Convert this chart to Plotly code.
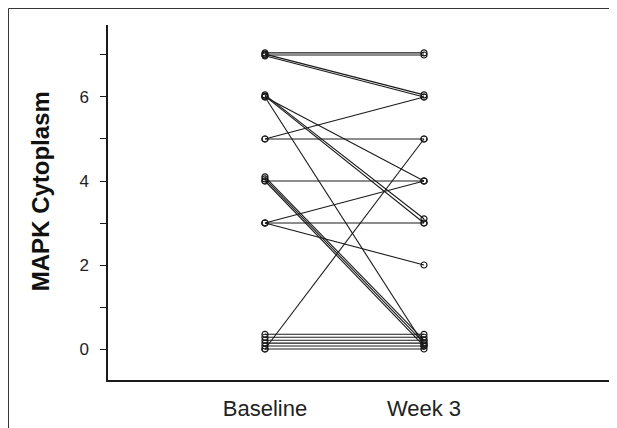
import plotly.graph_objects as go

categories = ["Baseline", "Week 3"]

# Paired values per subject (small offsets separate stacked points, as in the original)
baseline = [7.05, 7.00, 7.02, 6.98, 6.05, 6.02, 6.00, 6.00,
            5.00, 5.00, 4.00, 4.10, 4.05, 4.00,
            3.00, 3.00, 3.00, 0.00,
            0.00, 0.07, 0.14, 0.21, 0.28, 0.35]
week3 = [7.05, 7.00, 6.05, 6.00, 3.10, 3.00, 4.00, 0.10,
         6.00, 5.00, 4.00, 0.21, 0.14, 0.07,
         4.00, 3.00, 2.00, 5.00,
         0.00, 0.07, 0.14, 0.21, 0.28, 0.35]

y_ticks = [0, 2, 4, 6]
y_minor = [1, 3, 5, 7]
y_title = "MAPK Cytoplasm"

fig = go.Figure()
for b, w in zip(baseline, week3):
    fig.add_trace(go.Scatter(
        x=categories, y=[b, w], mode="lines+markers",
        line=dict(color="#1a1a1a", width=1.1),
        marker=dict(symbol="circle-open", size=6, color="#1a1a1a",
                    line=dict(width=1.2, color="#1a1a1a")),
        showlegend=False, hoverinfo="skip"))

fig.update_layout(
    width=609, height=420,
    margin=dict(l=100, r=2, t=17, b=48),
    paper_bgcolor="white", plot_bgcolor="white",
    font=dict(family="Liberation Sans, Arial, sans-serif", color="#222"),
    xaxis=dict(type="category", range=[-0.987, 2.201], showgrid=False,
               zeroline=False, showline=True, linecolor="#1a1a1a", linewidth=1.5,
               ticks="", tickfont=dict(size=22), ticklabelstandoff=8),
    yaxis=dict(range=[-0.738, 7.714], tickvals=y_ticks, showgrid=False,
               zeroline=False, showline=True, linecolor="#1a1a1a", linewidth=1.5,
               ticks="outside", ticklen=6, tickcolor="#1a1a1a", tickwidth=1,
               tickfont=dict(size=17), ticklabelstandoff=8,
               minor=dict(tickvals=y_minor, ticks="outside", ticklen=6,
                          tickcolor="#1a1a1a", tickwidth=1)),
    annotations=[dict(text="<b>" + y_title + "</b>", xref="paper", yref="paper",
                      x=-0.134, y=0.532, xanchor="center", yanchor="middle",
                      textangle=-90, showarrow=False,
                      font=dict(size=24, color="#111"))],
    shapes=[dict(type="rect", xref="paper", yref="paper",
                 x0=-0.1963, x1=1.05, y0=-0.2, y1=1.0465,
                 line=dict(color="#333", width=1), fillcolor="rgba(0,0,0,0)")],
)

fig.write_html("out.html")
